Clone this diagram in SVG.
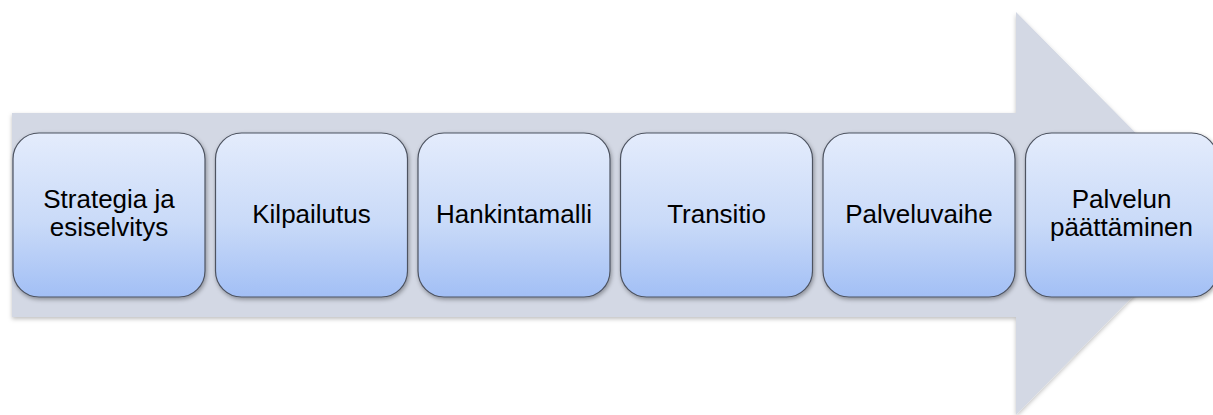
<svg xmlns="http://www.w3.org/2000/svg" width="1213" height="415" viewBox="0 0 1213 415">
  <defs>
    <linearGradient id="boxFill" x1="0" y1="0" x2="0" y2="1">
      <stop offset="0" stop-color="#e4ecfc"/>
      <stop offset="0.55" stop-color="#c9daf8"/>
      <stop offset="1" stop-color="#a2bff5"/>
    </linearGradient>
    <filter id="boxShadow" x="-10%" y="-10%" width="125%" height="130%">
      <feDropShadow dx="1" dy="2" stdDeviation="2" flood-color="#000" flood-opacity="0.35"/>
    </filter>
    <filter id="arrowShadow" x="-5%" y="-5%" width="110%" height="115%">
      <feDropShadow dx="0" dy="2" stdDeviation="2" flood-color="#000" flood-opacity="0.25"/>
    </filter>
  </defs>
  <style>
    .step rect { fill: url(#boxFill); stroke: #4d5360; stroke-width: 1.2; filter: url(#boxShadow); }
    .step text { font-family: "Liberation Sans", Arial, sans-serif; font-size: 26px; fill: #000; text-anchor: middle; }
  </style>

  <rect width="1213" height="415" fill="#ffffff"/>

  <!-- Background process arrow -->
  <polygon id="process-arrow" points="12,113 1016,113 1016,12 1215,213 1016,415 1016,317 12,317" fill="#d3d8e4" filter="url(#arrowShadow)"/>

  <!-- Process steps -->
  <g id="step-strategia" class="step">
    <rect x="13" y="133" width="192" height="164" rx="26" ry="26"/>
    <text x="109" y="208">Strategia ja</text>
    <text x="109" y="236">esiselvitys</text>
  </g>
  <g id="step-kilpailutus" class="step">
    <rect x="215.5" y="133" width="192" height="164" rx="26" ry="26"/>
    <text x="311.5" y="223">Kilpailutus</text>
  </g>
  <g id="step-hankintamalli" class="step">
    <rect x="418" y="133" width="192" height="164" rx="26" ry="26"/>
    <text x="514" y="223">Hankintamalli</text>
  </g>
  <g id="step-transitio" class="step">
    <rect x="620.5" y="133" width="192" height="164" rx="26" ry="26"/>
    <text x="716.5" y="223">Transitio</text>
  </g>
  <g id="step-palveluvaihe" class="step">
    <rect x="823" y="133" width="192" height="164" rx="26" ry="26"/>
    <text x="919" y="223">Palveluvaihe</text>
  </g>
  <g id="step-paattaminen" class="step">
    <rect x="1025.5" y="133" width="192" height="164" rx="26" ry="26"/>
    <text x="1121.5" y="208">Palvelun</text>
    <text x="1121.5" y="236">päättäminen</text>
  </g>

  <!-- No connectors: steps sit on the process arrow -->
  <g id="connectors"/>
</svg>
